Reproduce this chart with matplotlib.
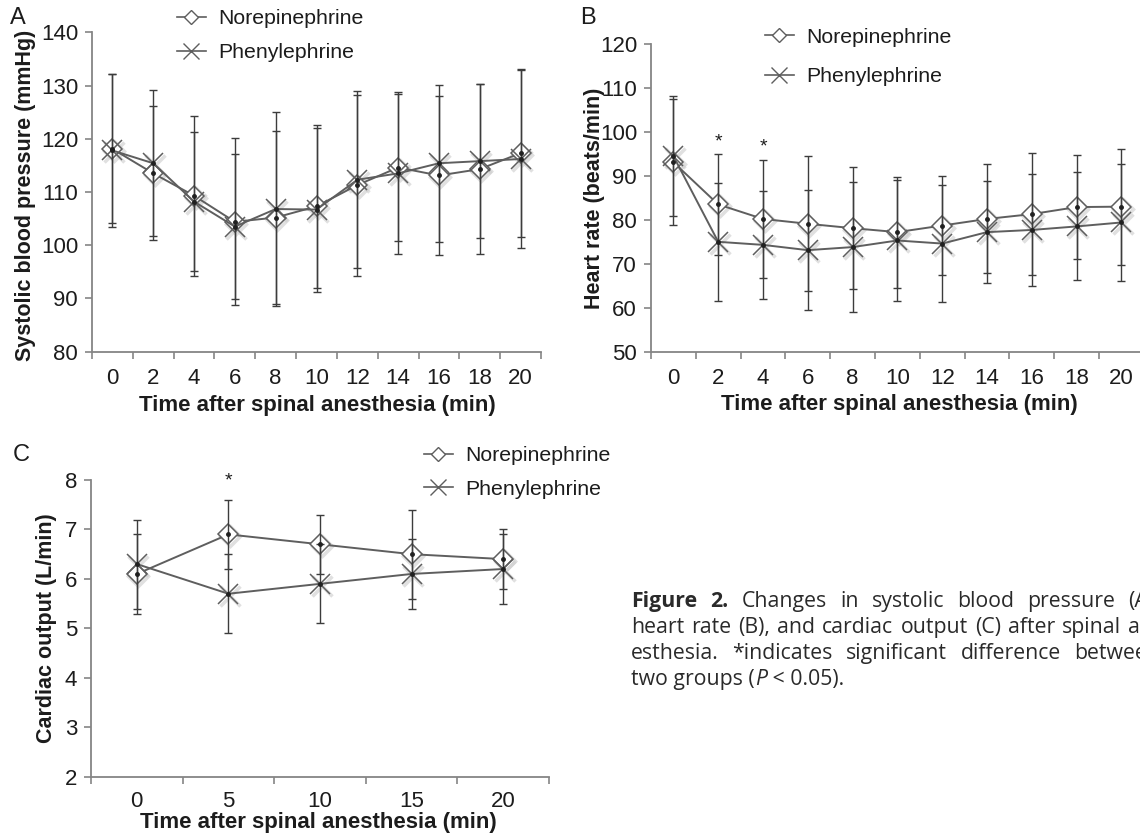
import numpy as np
import matplotlib.pyplot as plt
from matplotlib.lines import Line2D
from matplotlib.transforms import offset_copy

plt.rcParams['font.family'] = ['Liberation Sans', 'DejaVu Sans']

# ---- data ----
time_ab = ['0', '2', '4', '6', '8', '10', '12', '14', '16', '18', '20']
time_c = ['0', '5', '10', '15', '20']

# A: systolic blood pressure (mmHg)
sbp_ne = [118.1, 113.5, 109.3, 104.4, 105.2, 107.3, 111.3, 114.6, 113.1, 114.3, 117.3]
sbp_ne_sd = [14.0, 12.6, 15.0, 15.7, 16.3, 15.3, 17.0, 13.8, 15.0, 16.0, 15.8]
sbp_pe = [117.8, 115.4, 108.2, 103.5, 106.8, 106.7, 112.3, 113.5, 115.4, 115.8, 116.2]
sbp_pe_sd = [14.3, 13.7, 13.0, 13.6, 18.3, 15.4, 16.6, 15.2, 14.7, 14.4, 16.8]

# B: heart rate (beats/min)
hr_ne = [93.1, 83.5, 80.2, 79.1, 78.1, 77.2, 78.7, 80.2, 81.3, 82.9, 83.0]
hr_ne_sd = [14.3, 11.4, 13.4, 15.4, 13.9, 12.6, 11.3, 12.4, 13.8, 11.9, 13.2]
hr_pe = [94.5, 75.0, 74.3, 73.1, 73.8, 75.3, 74.6, 77.2, 77.7, 78.5, 79.4]
hr_pe_sd = [13.7, 13.4, 12.3, 13.7, 14.8, 13.8, 13.3, 11.6, 12.7, 12.3, 13.4]
hr_sig_idx = [1, 2]
hr_sig_y = [97.8, 96.6]

# C: cardiac output (L/min)
co_ne = [6.1, 6.9, 6.7, 6.5, 6.4]
co_ne_sd = [0.8, 0.7, 0.6, 0.9, 0.6]
co_pe = [6.3, 5.7, 5.9, 6.1, 6.2]
co_pe_sd = [0.9, 0.8, 0.8, 0.7, 0.7]
co_sig_idx = [1]
co_sig_y = [7.98]

LINE = '#5e5e5e'
ERR = '#3c3c3c'
AXC = '#858585'
TXT = '#1c1c1c'

W, H = 1140, 836
fig = plt.figure(figsize=(W / 100, H / 100), dpi=100)


def px_axes(left, top, right, bottom):
    return fig.add_axes([left / W, 1 - bottom / H, (right - left) / W, (bottom - top) / H])


def draw_panel(ax, labels, ne, ne_sd, pe, pe_sd, ylim, ystep, xpad, sig_idx, sig_y):
    n = len(labels)
    x = np.arange(n)
    shadow = offset_copy(ax.transData, fig=fig, x=1.5, y=-2, units='dots')

    # soft marker shadows
    ax.plot(x, ne, ls='none', marker='D', ms=10, mfc='none', mec='#cccccc',
            mew=2.5, alpha=0.6, transform=shadow, zorder=1)
    ax.plot(x, pe, ls='none', marker='x', ms=15, mec='#cccccc',
            mew=2.5, alpha=0.6, transform=shadow, zorder=1)

    ax.plot(x, ne, color=LINE, lw=1.4, marker='D', ms=10, mfc='white',
            mec=LINE, mew=1.1, zorder=3)
    ax.plot(x, pe, color=LINE, lw=1.4, marker='x', ms=15, mec=LINE,
            mew=1.1, zorder=3)
    ax.errorbar(x, ne, yerr=ne_sd, fmt='none', ecolor=ERR, elinewidth=1.0,
                capsize=3, capthick=1.0, zorder=4)
    ax.errorbar(x, pe, yerr=pe_sd, fmt='none', ecolor=ERR, elinewidth=1.0,
                capsize=3, capthick=1.0, zorder=4)
    ax.plot(x, ne, ls='none', marker='o', ms=2.5, color='#202020', zorder=5)
    ax.plot(x, pe, ls='none', marker='o', ms=2.5, color='#202020', zorder=5)

    for i, yv in zip(sig_idx, sig_y):
        ax.text(i, yv, '*', ha='center', va='center', fontsize=14, color=TXT)

    ax.set_xlim(-0.5, n - 0.5)
    ax.set_ylim(*ylim)
    ax.set_xticks(np.arange(n + 1) - 0.5)
    ax.set_xticklabels([])
    ax.set_xticks(x, minor=True)
    ax.set_xticklabels(labels, minor=True)
    ax.set_yticks(np.arange(ylim[0], ylim[1] + ystep / 2, ystep))
    ax.tick_params(axis='x', which='major', length=5, width=1.2, color=AXC, direction='out')
    ax.tick_params(axis='x', which='minor', length=0, pad=xpad, labelsize=16, labelcolor=TXT)
    ax.tick_params(axis='y', length=5, width=1.2, color=AXC, direction='out',
                   pad=5, labelsize=16, labelcolor=TXT)
    for s in ['top', 'right']:
        ax.spines[s].set_visible(False)
    for s in ['left', 'bottom']:
        ax.spines[s].set_color(AXC)
        ax.spines[s].set_linewidth(1.3)


def add_legend(ax, fx, fy, spacing):
    handles = [
        Line2D([], [], color=LINE, lw=1.2, marker='D', ms=7, mfc='white', mec=LINE, mew=1),
        Line2D([], [], color=LINE, lw=1.2, marker='x', ms=11, mec=LINE, mew=1),
    ]
    ax.legend(handles, ['Norepinephrine', 'Phenylephrine'], loc='center left',
              bbox_to_anchor=(fx / W, 1 - fy / H), bbox_transform=fig.transFigure,
              frameon=False, fontsize=15.3, labelcolor=TXT, handlelength=1.35,
              handletextpad=0.6, labelspacing=spacing, borderpad=0,
              borderaxespad=0, numpoints=1)


xlabel = 'Time after spinal anesthesia (min)'
lab_kw = dict(fontweight='bold', color=TXT)

# ---- panel A ----
axA = px_axes(92, 32.3, 541, 351.7)
draw_panel(axA, time_ab, sbp_ne, sbp_ne_sd, sbp_pe, sbp_pe_sd, (80, 140), 10, 12, [], [])
axA.set_ylabel('Systolic blood pressure (mmHg)', fontsize=15.5, va='center', **lab_kw)
axA.yaxis.set_label_coords(-0.149, 0.49)
axA.set_xlabel(xlabel, fontsize=16, va='center', **lab_kw)
axA.xaxis.set_label_coords(0.503, -0.167)
add_legend(axA, 177, 35.5, 0.7)
fig.text(18 / W, 1 - 18 / H, 'A', fontsize=17, ha='center', va='center', color=TXT)

# ---- panel B ----
axB = px_axes(651, 44, 651 + 11 * 44.8, 351.7)
draw_panel(axB, time_ab, hr_ne, hr_ne_sd, hr_pe, hr_pe_sd, (50, 120), 10, 12, hr_sig_idx, hr_sig_y)
axB.set_ylabel('Heart rate (beats/min)', fontsize=15.5, va='center', **lab_kw)
axB.yaxis.set_label_coords(-0.114, 0.5)
axB.set_xlabel(xlabel, fontsize=16, va='center', **lab_kw)
axB.xaxis.set_label_coords(0.505, -0.173)
add_legend(axB, 765, 57, 0.95)
fig.text(588 / W, 1 - 18 / H, 'B', fontsize=17, ha='center', va='center', color=TXT)

# ---- panel C ----
axC = px_axes(91, 480, 549, 776.7)
draw_panel(axC, time_c, co_ne, co_ne_sd, co_pe, co_pe_sd, (2, 8), 1, 10, co_sig_idx, co_sig_y)
axC.set_ylabel('Cardiac output (L/min)', fontsize=15.5, va='center', **lab_kw)
axC.yaxis.set_label_coords(-0.098, 0.5)
axC.set_xlabel(xlabel, fontsize=16, va='center', **lab_kw)
axC.xaxis.set_label_coords(0.496, -0.156)
add_legend(axC, 424, 472.5, 0.7)
fig.text(21 / W, 1 - 455 / H, 'C', fontsize=17, ha='center', va='center', color=TXT)

# ---- caption (justified, runs off the right edge like the source) ----
renderer = fig.canvas.get_renderer()
cap_font = dict(family=['Open Sans', 'DejaVu Sans'], fontsize=15.3, color='#2a2a2a')
cap_left, cap_right = 631, 1160


def word_width(txt, **kw):
    t = fig.text(0, 0, txt, **{**cap_font, **kw})
    w = t.get_window_extent(renderer).width
    t.remove()
    return w


def justify(words, base_y):
    widths = [word_width(w, **kw) for w, kw in words]
    gap = (cap_right - cap_left - sum(widths)) / (len(words) - 1)
    xpos = cap_left
    for (w, kw), wd in zip(words, widths):
        fig.text(xpos / W, 1 - base_y / H, w, ha='left', va='baseline', **{**cap_font, **kw})
        xpos += wd + gap


line1 = [('Figure', {'fontweight': 'bold'}), ('2.', {'fontweight': 'bold'})] + \
        [(w, {}) for w in 'Changes in systolic blood pressure (A),'.split()]
line2 = [(w, {}) for w in 'heart rate (B), and cardiac output (C) after spinal an-'.split()]
line3 = [(w, {}) for w in 'esthesia. *indicates significant difference between'.split()]
justify(line1, 607)
justify(line2, 633)
justify(line3, 659)

xpos = cap_left
for seg, kw in [('two groups (', {}), ('P', {'fontstyle': 'italic'}), (' < 0.05).', {})]:
    fig.text(xpos / W, 1 - 685 / H, seg, ha='left', va='baseline', **{**cap_font, **kw})
    xpos += word_width(seg, **kw)

fig.savefig('out.png', dpi=100)
